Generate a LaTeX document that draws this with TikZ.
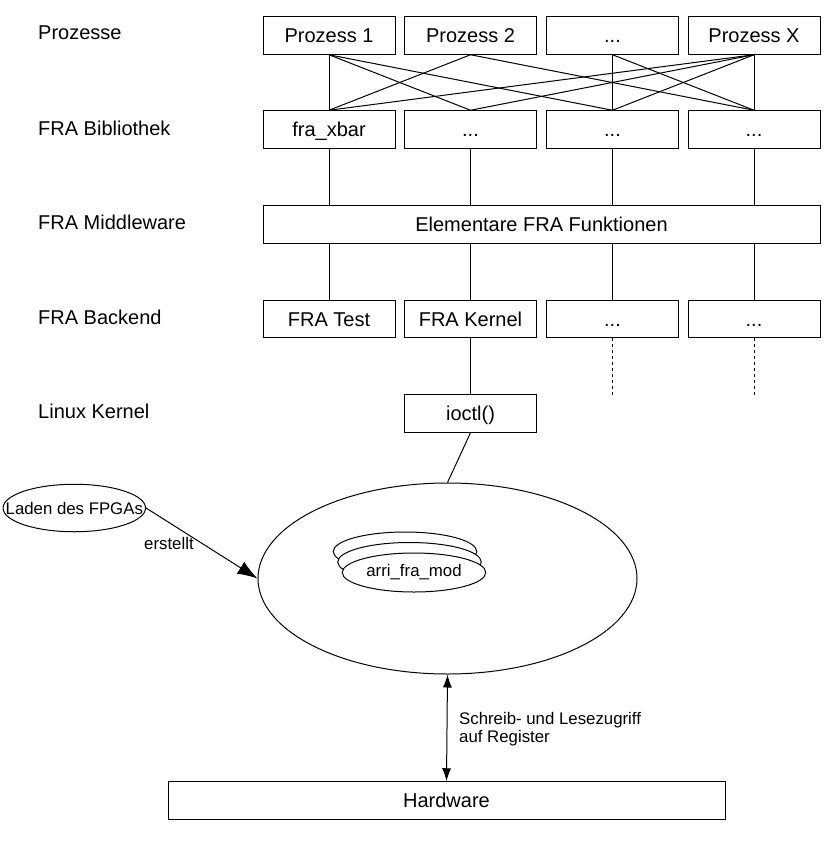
\documentclass[tikz,border=0pt]{standalone}
\usepackage{fontspec}
\setmainfont{Liberation Sans}
\usetikzlibrary{shapes.geometric,arrows.meta}
\tikzset{
  bigtext/.style={font=\fontsize{20}{24}\selectfont},
  smalltext/.style={font=\fontsize{16.8}{20}\selectfont},
  box/.style={draw, line width=1pt, minimum width=132pt, minimum height=37.5pt, inner sep=0pt,
    text height=14.3pt, text depth=0pt, bigtext},
  lbl/.style={anchor=base west, inner sep=0pt, bigtext},
  conn/.style={line width=1pt},
  ell/.style={draw, ellipse, line width=1pt, inner sep=0pt},
  inner/.style={inner sep=0pt, smalltext},
}
\begin{document}
\begin{tikzpicture}[x=1pt,y=-1pt]
\useasboundingbox (0,0) rectangle (835,859);
% left labels
\node[lbl] (tp) at (38,40) {Prozesse};
\node[lbl] (tb) at (38,135) {FRA Bibliothek};
\node[lbl] (tm) at (38,229) {FRA Middleware};
\node[lbl] (tk) at (38,324) {FRA Backend};
\node[lbl] (tl) at (38,418) {Linux Kernel};
% processes
\node[box] (p1) at (329,35.5) {Prozess 1};
\node[box] (p2) at (470.5,35.5) {Prozess 2};
\node[box] (p3) at (612.5,35.5) {...};
\node[box] (p4) at (754,35.5) {Prozess X};
% libraries
\node[box] (l1) at (329,129.5) {fra\_xbar};
\node[box] (l2) at (470.5,129.5) {...};
\node[box] (l3) at (612.5,129.5) {...};
\node[box] (l4) at (754,129.5) {...};
% middleware
\node[box, minimum width=557pt] (mw) at (541.5,224.5) {Elementare FRA Funktionen};
% backend
\node[box] (b1) at (329,319) {FRA Test};
\node[box] (b2) at (470.5,319) {FRA Kernel};
\node[box] (b3) at (612.5,319) {...};
\node[box] (b4) at (754,319) {...};
% kernel
\node[box] (io) at (470.5,413.5) {ioctl()};
\coordinate (d3) at (612.5,395);
\coordinate (d4) at (754,395);
% crossbar connections
\draw[conn] (p1.south) -- (l1.north);
\draw[conn] (p1.south) -- (l2.north);
\draw[conn] (p1.south) -- (l3.north);
\draw[conn] (p2.south) -- (l1.north);
\draw[conn] (p2.south) -- (l4.north);
\draw[conn] (p3.south) -- (l3.north);
\draw[conn] (p3.south) -- (l4.north);
\draw[conn] (p4.south) -- (l1.north);
\draw[conn] (p4.south) -- (l2.north);
\draw[conn] (p4.south) -- (l3.north);
\draw[conn] (p4.south) -- (l4.north);
% libraries to middleware
\foreach \n in {l1,l2,l3,l4}{
  \draw[conn] (\n.south) -- (\n.south |- mw.north);
}
% middleware to backend
\foreach \n in {b1,b2,b3,b4}{
  \draw[conn] (\n.north |- mw.south) -- (\n.north);
}
\draw[conn] (b2.south) -- (io.north);
\draw[conn, dash pattern=on 3pt off 3pt] (b3.south) -- (d3);
\draw[conn, dash pattern=on 3pt off 3pt] (b4.south) -- (d4);
% kernel module ellipse
\node[ell, minimum width=379pt, minimum height=191pt] (kern) at (447.5,578.5) {};
\node[ell, fill=white, minimum width=143.5pt, minimum height=39pt] (e1) at (405,551.5) {};
\node[ell, fill=white, minimum width=143.5pt, minimum height=39pt] (e2) at (409.5,562) {};
\node[ell, fill=white, minimum width=143.5pt, minimum height=39pt] (e3) at (414,572.5) {};
\node[inner] (e3t) at (e3.center) {arri\_fra\_mod};
\draw[conn] (io.south) -- (kern.north);
% FPGA loader
\node[ell, minimum width=142.5pt, minimum height=47.5pt] (laden) at (74.3,508) {};
\node[inner] (ladent) at (laden.center) {Laden des FPGAs};
\draw[conn, -{Latex[length=20pt,width=14pt]}] (laden.east) -- (kern.west);
\node[anchor=base west, inner sep=0pt, smalltext] (erst) at (144,549) {erstellt};
% hardware
\node[box, minimum width=557pt] (hw) at (446.5,800.5) {Hardware};
\draw[conn, {Latex[length=13pt,width=9pt]}-{Latex[length=13pt,width=9pt]}] (kern.south) -- (hw.north);
\node[anchor=base west, inner sep=0pt, smalltext] (rw) at (459,724) {Schreib- und Lesezugriff};
\node[anchor=base west, inner sep=0pt, smalltext] (rw2) at (459,742) {auf Register};
\end{tikzpicture}
\end{document}
